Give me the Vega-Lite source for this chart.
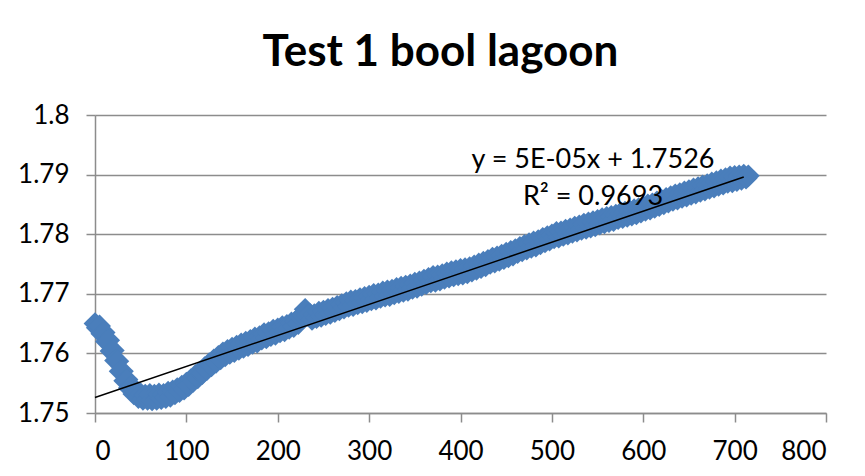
{
  "$schema": "https://vega.github.io/schema/vega-lite/v6.json",
  "width": 731,
  "height": 298,
  "autosize": "none",
  "padding": {"left": 95, "top": 115, "right": 39, "bottom": 63},
  "background": "white",
  "title": {
    "text": "Test 1 bool lagoon",
    "font": "Lato",
    "fontSize": 44,
    "fontWeight": "bold",
    "color": "#000000",
    "anchor": "middle",
    "dx": -20,
    "offset": 27
  },
  "config": {
    "view": {"stroke": null},
    "axis": {
      "labelFont": "Lato",
      "labelFontSize": 26,
      "labelColor": "#000000",
      "domainColor": "#8c8c8c",
      "domainWidth": 1.5,
      "tickColor": "#8c8c8c",
      "tickWidth": 1.5,
      "tickSize": 9,
      "gridColor": "#8c8c8c",
      "gridWidth": 1.5,
      "title": null
    }
  },
  "datasets": {
    "pts": [
      {"t":0,"v":1.7650},{"t":2.5,"v":1.7643},{"t":5,"v":1.7646},{"t":7.5,"v":1.7633},{"t":10,"v":1.7635},{"t":12.5,"v":1.7620},{"t":15,"v":1.7622},{"t":17.5,"v":1.7604},{"t":20,"v":1.7605},
      {"t":22.5,"v":1.7588},{"t":25,"v":1.7587},{"t":27.5,"v":1.7570},{"t":30,"v":1.7570},{"t":32.5,"v":1.7554},{"t":35,"v":1.7556},{"t":37.5,"v":1.7542},{"t":40,"v":1.7545},{"t":42.5,"v":1.7532},{"t":45,"v":1.7537},
      {"t":47.5,"v":1.7526},{"t":50,"v":1.7532},{"t":52.5,"v":1.7523},{"t":55,"v":1.7530},{"t":57.5,"v":1.7523},{"t":60,"v":1.7531},{"t":62.5,"v":1.7522},{"t":65,"v":1.7530},{"t":67.5,"v":1.7523},{"t":70,"v":1.7532},
      {"t":72.5,"v":1.7524},{"t":75,"v":1.7531},{"t":77.5,"v":1.7526},{"t":80,"v":1.7535},{"t":82.5,"v":1.7528},{"t":85,"v":1.7537},{"t":87.5,"v":1.7532},{"t":90,"v":1.7541},{"t":92.5,"v":1.7536},{"t":95,"v":1.7545},
      {"t":97.5,"v":1.7540},{"t":100,"v":1.7550},{"t":102.5,"v":1.7546},{"t":105,"v":1.7556},{"t":107.5,"v":1.7553},{"t":110,"v":1.7563},{"t":112.5,"v":1.7559},{"t":115,"v":1.7569},{"t":117.5,"v":1.7566},{"t":120,"v":1.7576},
      {"t":122.5,"v":1.7573},{"t":125,"v":1.7583},{"t":127.5,"v":1.7579},{"t":130,"v":1.7589},{"t":132.5,"v":1.7585},{"t":135,"v":1.7595},{"t":137.5,"v":1.7591},{"t":140,"v":1.7601},{"t":142.5,"v":1.7596},{"t":145,"v":1.7605},
      {"t":147.5,"v":1.7600},{"t":150,"v":1.7609},{"t":152.5,"v":1.7603},{"t":155,"v":1.7612},{"t":157.5,"v":1.7607},{"t":160,"v":1.7616},{"t":162.5,"v":1.7610},{"t":165,"v":1.7619},{"t":167.5,"v":1.7613},{"t":170,"v":1.7622},
      {"t":172.5,"v":1.7617},{"t":175,"v":1.7626},{"t":177.5,"v":1.7619},{"t":180,"v":1.7628},{"t":182.5,"v":1.7624},{"t":185,"v":1.7633},{"t":187.5,"v":1.7626},{"t":190,"v":1.7635},{"t":192.5,"v":1.7630},{"t":195,"v":1.7639},
      {"t":197.5,"v":1.7632},{"t":200,"v":1.7641},{"t":202.5,"v":1.7636},{"t":205,"v":1.7645},{"t":207.5,"v":1.7638},{"t":210,"v":1.7647},{"t":212.5,"v":1.7642},{"t":215,"v":1.7651},{"t":217.5,"v":1.7645},{"t":220,"v":1.7654},
      {"t":222.5,"v":1.7650},{"t":225,"v":1.7662},{"t":227.5,"v":1.7664},{"t":230,"v":1.7674},{"t":232.5,"v":1.7664},{"t":235,"v":1.7666},{"t":237.5,"v":1.7657},{"t":240,"v":1.7665},{"t":242.5,"v":1.7660},{"t":245,"v":1.7669},
      {"t":247.5,"v":1.7662},{"t":250,"v":1.7671},{"t":252.5,"v":1.7665},{"t":255,"v":1.7674},{"t":257.5,"v":1.7667},{"t":260,"v":1.7676},{"t":262.5,"v":1.7670},{"t":265,"v":1.7679},{"t":267.5,"v":1.7673},{"t":270,"v":1.7682},
      {"t":272.5,"v":1.7676},{"t":275,"v":1.7685},{"t":277.5,"v":1.7679},{"t":280,"v":1.7688},{"t":282.5,"v":1.7680},{"t":285,"v":1.7689},{"t":287.5,"v":1.7683},{"t":290,"v":1.7692},{"t":292.5,"v":1.7685},{"t":295,"v":1.7694},
      {"t":297.5,"v":1.7687},{"t":300,"v":1.7696},{"t":302.5,"v":1.7690},{"t":305,"v":1.7699},{"t":307.5,"v":1.7691},{"t":310,"v":1.7700},{"t":312.5,"v":1.7694},{"t":315,"v":1.7703},{"t":317.5,"v":1.7696},{"t":320,"v":1.7705},
      {"t":322.5,"v":1.7697},{"t":325,"v":1.7706},{"t":327.5,"v":1.7700},{"t":330,"v":1.7709},{"t":332.5,"v":1.7702},{"t":335,"v":1.7711},{"t":337.5,"v":1.7704},{"t":340,"v":1.7713},{"t":342.5,"v":1.7706},{"t":345,"v":1.7715},
      {"t":347.5,"v":1.7709},{"t":350,"v":1.7718},{"t":352.5,"v":1.7711},{"t":355,"v":1.7720},{"t":357.5,"v":1.7714},{"t":360,"v":1.7723},{"t":362.5,"v":1.7717},{"t":365,"v":1.7726},{"t":367.5,"v":1.7720},{"t":370,"v":1.7729},
      {"t":372.5,"v":1.7721},{"t":375,"v":1.7730},{"t":377.5,"v":1.7723},{"t":380,"v":1.7732},{"t":382.5,"v":1.7726},{"t":385,"v":1.7735},{"t":387.5,"v":1.7728},{"t":390,"v":1.7737},{"t":392.5,"v":1.7730},{"t":395,"v":1.7739},
      {"t":397.5,"v":1.7732},{"t":400,"v":1.7741},{"t":402.5,"v":1.7733},{"t":405,"v":1.7742},{"t":407.5,"v":1.7735},{"t":410,"v":1.7744},{"t":412.5,"v":1.7738},{"t":415,"v":1.7747},{"t":417.5,"v":1.7741},{"t":420,"v":1.7750},
      {"t":422.5,"v":1.7744},{"t":425,"v":1.7753},{"t":427.5,"v":1.7747},{"t":430,"v":1.7756},{"t":432.5,"v":1.7751},{"t":435,"v":1.7760},{"t":437.5,"v":1.7753},{"t":440,"v":1.7762},{"t":442.5,"v":1.7756},{"t":445,"v":1.7765},
      {"t":447.5,"v":1.7759},{"t":450,"v":1.7768},{"t":452.5,"v":1.7762},{"t":455,"v":1.7771},{"t":457.5,"v":1.7765},{"t":460,"v":1.7774},{"t":462.5,"v":1.7769},{"t":465,"v":1.7778},{"t":467.5,"v":1.7772},{"t":470,"v":1.7781},
      {"t":472.5,"v":1.7775},{"t":475,"v":1.7784},{"t":477.5,"v":1.7778},{"t":480,"v":1.7787},{"t":482.5,"v":1.7780},{"t":485,"v":1.7789},{"t":487.5,"v":1.7784},{"t":490,"v":1.7793},{"t":492.5,"v":1.7787},{"t":495,"v":1.7796},
      {"t":497.5,"v":1.7790},{"t":500,"v":1.7799},{"t":502.5,"v":1.7794},{"t":505,"v":1.7803},{"t":507.5,"v":1.7795},{"t":510,"v":1.7804},{"t":512.5,"v":1.7798},{"t":515,"v":1.7807},{"t":517.5,"v":1.7800},{"t":520,"v":1.7809},
      {"t":522.5,"v":1.7803},{"t":525,"v":1.7812},{"t":527.5,"v":1.7805},{"t":530,"v":1.7814},{"t":532.5,"v":1.7808},{"t":535,"v":1.7817},{"t":537.5,"v":1.7810},{"t":540,"v":1.7819},{"t":542.5,"v":1.7812},{"t":545,"v":1.7821},
      {"t":547.5,"v":1.7814},{"t":550,"v":1.7823},{"t":552.5,"v":1.7817},{"t":555,"v":1.7826},{"t":557.5,"v":1.7819},{"t":560,"v":1.7828},{"t":562.5,"v":1.7821},{"t":565,"v":1.7830},{"t":567.5,"v":1.7823},{"t":570,"v":1.7832},
      {"t":572.5,"v":1.7826},{"t":575,"v":1.7835},{"t":577.5,"v":1.7828},{"t":580,"v":1.7837},{"t":582.5,"v":1.7830},{"t":585,"v":1.7839},{"t":587.5,"v":1.7832},{"t":590,"v":1.7841},{"t":592.5,"v":1.7834},{"t":595,"v":1.7843},
      {"t":597.5,"v":1.7837},{"t":600,"v":1.7846},{"t":602.5,"v":1.7840},{"t":605,"v":1.7849},{"t":607.5,"v":1.7842},{"t":610,"v":1.7851},{"t":612.5,"v":1.7845},{"t":615,"v":1.7854},{"t":617.5,"v":1.7848},{"t":620,"v":1.7857},
      {"t":622.5,"v":1.7851},{"t":625,"v":1.7860},{"t":627.5,"v":1.7854},{"t":630,"v":1.7863},{"t":632.5,"v":1.7857},{"t":635,"v":1.7866},{"t":637.5,"v":1.7859},{"t":640,"v":1.7868},{"t":642.5,"v":1.7862},{"t":645,"v":1.7871},
      {"t":647.5,"v":1.7864},{"t":650,"v":1.7873},{"t":652.5,"v":1.7867},{"t":655,"v":1.7876},{"t":657.5,"v":1.7869},{"t":660,"v":1.7878},{"t":662.5,"v":1.7872},{"t":665,"v":1.7881},{"t":667.5,"v":1.7874},{"t":670,"v":1.7883},
      {"t":672.5,"v":1.7877},{"t":675,"v":1.7886},{"t":677.5,"v":1.7879},{"t":680,"v":1.7888},{"t":682.5,"v":1.7882},{"t":685,"v":1.7891},{"t":687.5,"v":1.7884},{"t":690,"v":1.7893},{"t":692.5,"v":1.7887},{"t":695,"v":1.7896},
      {"t":697.5,"v":1.7888},{"t":700,"v":1.7897},{"t":702.5,"v":1.7890},{"t":705,"v":1.7898},{"t":707.5,"v":1.7892},{"t":710,"v":1.7899},{"t":712.5,"v":1.7894},{"t":715,"v":1.7898}
    ],
    "trend": [
      {"t":0,"v":1.7526},{"t":710,"v":1.7896}
    ],
    "eq": [
      {"t":545,"v":1.79245,"label":"y = 5E-05x + 1.7526"},
      {"t":545,"v":1.78624,"label":"R² = 0.9693"}
    ]
  },
  "encoding": {
    "x": {"field": "t", "type": "quantitative"},
    "y": {"field": "v", "type": "quantitative"}
  },
  "layer": [
    {
      "data": {"name": "pts"},
      "mark": {"type": "point", "shape": "diamond", "filled": true, "size": 520, "color": "#4A7EBB", "opacity": 1},
      "encoding": {
        "x": {"field": "t", "type": "quantitative",
              "scale": {"domain": [0, 800], "nice": false},
              "axis": {"values": [0,100,200,300,400,500,600,700,800], "grid": false, "labelPadding": 16, "format": "d"}},
        "y": {"field": "v", "type": "quantitative",
              "scale": {"domain": [1.75, 1.8], "nice": false, "zero": false},
              "axis": {"values": [1.75,1.76,1.77,1.78,1.79,1.8], "grid": true, "labelPadding": 17, "format": "~g"}}
      }
    },
    {
      "data": {"name": "trend"},
      "mark": {"type": "line", "color": "#000000", "strokeWidth": 1.5}
    },
    {
      "data": {"name": "eq"},
      "mark": {"type": "text", "font": "Lato", "fontSize": 27, "color": "#000000", "align": "center", "baseline": "middle"},
      "encoding": {"text": {"field": "label"}}
    }
  ]
}
